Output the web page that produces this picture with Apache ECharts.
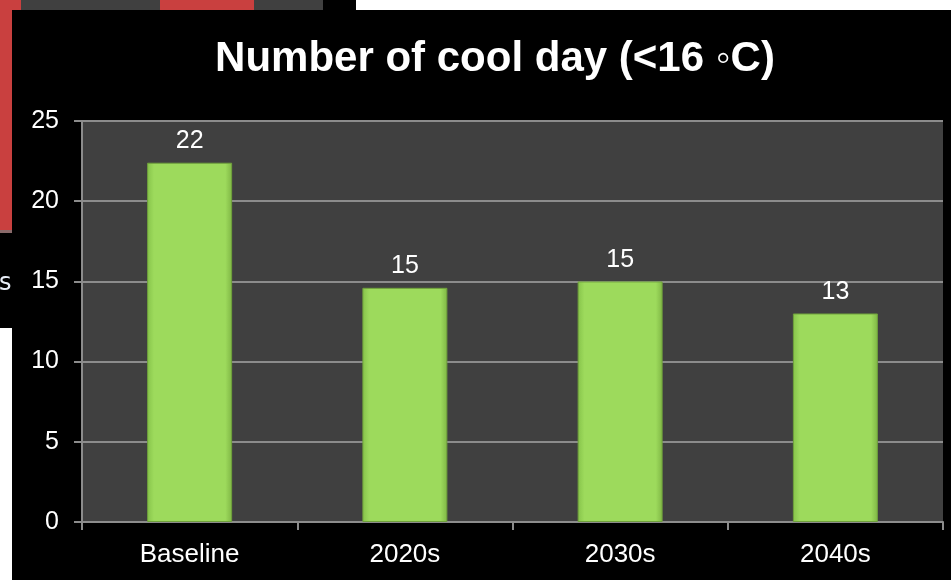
<!DOCTYPE html>
<html><head><meta charset="utf-8">
<script src="https://cdn.jsdelivr.net/npm/echarts@6/dist/echarts.min.js"></script>
<style>html,body{margin:0;padding:0;background:#000;}#c{width:951px;height:580px;}</style>
</head><body><div id="c"></div>
<script>
const categories = ['Baseline', '2020s', '2030s', '2040s'];
const coolDays = [22.4, 14.6, 15.0, 13.0];
const yTicks = [0, 5, 10, 15, 20, 25];
const titleText = 'Number of cool day (<16 \u25E6C)';

const FONT = 'Liberation Sans, Arial, sans-serif';
const chart = echarts.init(document.getElementById('c'), null, {renderer: 'canvas'});
chart.setOption({
  backgroundColor: '#000',
  animation: false,
  title: {
    text: titleText, left: 490, top: 33, textAlign: 'center',
    textStyle: {color: '#fff', fontSize: 42, fontWeight: 'bold', fontFamily: FONT}
  },
  graphic: [
    {type: 'rect', shape: {x: 0, y: 0, width: 323, height: 10}, style: {fill: '#404040'}, z: -10},
    {type: 'rect', shape: {x: 0, y: 0, width: 21, height: 232}, style: {fill: '#c9403f'}, z: -9},
    {type: 'rect', shape: {x: 160, y: 0, width: 94, height: 10}, style: {fill: '#c9403f'}, z: -9},
    {type: 'rect', shape: {x: 0, y: 230, width: 12, height: 3}, style: {fill: '#8a6a6a'}, z: -8},
    {type: 'rect', shape: {x: 356, y: 0, width: 595, height: 10}, style: {fill: '#fff'}, z: -10},
    {type: 'rect', shape: {x: 0, y: 328, width: 12, height: 252}, style: {fill: '#fff'}, z: -10},
    {type: 'rect', shape: {x: 12, y: 10, width: 939, height: 570}, style: {fill: '#000'}, z: -7},
    {type: 'text', x: -1, y: 272, style: {text: 's', fill: '#e8eef8', fontSize: 24, fontFamily: 'DejaVu Sans, sans-serif'}, z: -6}
  ],
  grid: {left: 82, right: 8, top: 121, bottom: 58, show: true, backgroundColor: '#404040', borderWidth: 0},
  xAxis: {
    type: 'category', data: categories,
    axisLine: {show: true, lineStyle: {color: '#8c8c8c', width: 2}},
    axisTick: {show: true, alignWithLabel: false, length: 8, lineStyle: {color: '#8c8c8c', width: 2}},
    axisLabel: {color: '#fff', fontSize: 26, margin: 20, fontFamily: FONT},
    splitLine: {show: false}
  },
  yAxis: {
    type: 'value', min: yTicks[0], max: yTicks[yTicks.length - 1], interval: 5,
    axisLine: {show: true, lineStyle: {color: '#8c8c8c', width: 2}},
    axisTick: {show: true, length: 8, lineStyle: {color: '#8c8c8c', width: 2}},
    axisLabel: {color: '#fff', fontSize: 25, margin: 23, fontFamily: FONT},
    splitLine: {show: true, lineStyle: {color: '#8c8c8c', width: 2}}
  },
  series: [{
    type: 'bar', data: coolDays, barWidth: 85,
    itemStyle: {
      color: new echarts.graphic.LinearGradient(0, 0, 1, 0, [
        {offset: 0, color: '#86c34a'}, {offset: 0.08, color: '#9dda5c'},
        {offset: 0.92, color: '#9dda5c'}, {offset: 1, color: '#7fb645'}
      ]),
      borderColor: '#6fa03c', borderWidth: 1
    },
    label: {
      show: true, position: 'top', distance: 9, color: '#fff', fontSize: 25,
      fontFamily: FONT,
      formatter: p => String(Math.round(p.value))
    }
  }]
});
</script></body></html>
